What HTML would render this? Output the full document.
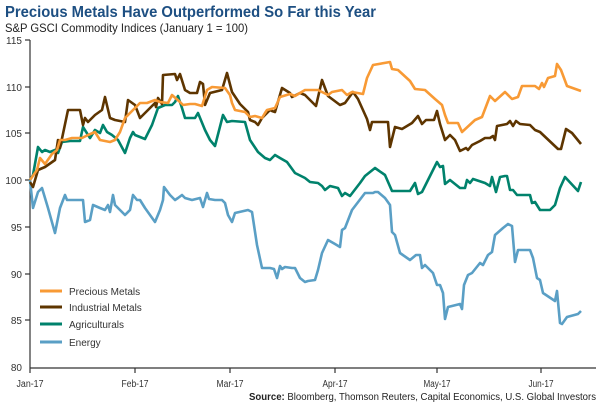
<!DOCTYPE html>
<html><head><meta charset="utf-8"><style>
body{margin:0;background:#fff;width:600px;height:407px;overflow:hidden;font-family:"Liberation Sans",sans-serif}
</style></head><body>
<svg width="600" height="407" xmlns="http://www.w3.org/2000/svg" font-family="Liberation Sans, sans-serif">
<text x="5" y="17" font-size="15.5" font-weight="bold" fill="#1d4f82" textLength="371" lengthAdjust="spacingAndGlyphs">Precious Metals Have Outperformed So Far this Year</text>
<text x="5" y="32" font-size="12" fill="#222" textLength="243" lengthAdjust="spacingAndGlyphs">S&amp;P GSCI Commodity Indices (January 1 = 100)</text>
<g stroke="#333" stroke-width="1.2" fill="none">
<line x1="30" y1="40" x2="30" y2="368"/>
<line x1="30" y1="368" x2="596" y2="368"/>
<line x1="25" y1="40" x2="30" y2="40"/><line x1="25" y1="87" x2="30" y2="87"/><line x1="25" y1="133" x2="30" y2="133"/><line x1="25" y1="180" x2="30" y2="180"/><line x1="25" y1="227" x2="30" y2="227"/><line x1="25" y1="274" x2="30" y2="274"/><line x1="25" y1="320" x2="30" y2="320"/>
<line x1="30" y1="368" x2="30" y2="373"/><line x1="135" y1="368" x2="135" y2="373"/><line x1="230" y1="368" x2="230" y2="373"/><line x1="335" y1="368" x2="335" y2="373"/><line x1="437" y1="368" x2="437" y2="373"/><line x1="541" y1="368" x2="541" y2="373"/>
</g>
<g font-size="10" fill="#333" text-anchor="end">
<text x="22" y="44">115</text><text x="22" y="91">110</text><text x="22" y="137">105</text><text x="22" y="184">100</text><text x="22" y="231">95</text><text x="22" y="278">90</text><text x="22" y="324">85</text><text x="22" y="371">80</text>
</g>
<g font-size="10" fill="#333" text-anchor="middle">
<text x="30" y="387" textLength="27" lengthAdjust="spacingAndGlyphs">Jan-17</text><text x="135" y="387" textLength="27" lengthAdjust="spacingAndGlyphs">Feb-17</text><text x="230" y="387" textLength="27" lengthAdjust="spacingAndGlyphs">Mar-17</text><text x="335" y="387" textLength="25" lengthAdjust="spacingAndGlyphs">Apr-17</text><text x="437" y="387" textLength="27" lengthAdjust="spacingAndGlyphs">May-17</text><text x="541" y="387" textLength="25" lengthAdjust="spacingAndGlyphs">Jun-17</text>
</g>
<text x="249" y="400" font-size="10" fill="#222" textLength="347" lengthAdjust="spacingAndGlyphs"><tspan font-weight="bold">Source:</tspan> Bloomberg, Thomson Reuters, Capital Economics, U.S. Global Investors</text>
<g fill="none" stroke-width="2.6" stroke-linejoin="round">
<polyline stroke="#5a9fc5" points="30,180 33,208 38,192 42,188 48,208 55,233 60,208 65,195 67,200 80,200 83,200 85,222 90,220 93,205 100,208 105,210 108,205 110,212 113,195 115,205 120,210 125,215 130,210 133,195 137,200 140,200 145,208 150,215 155,222 160,210 163,200 164,187 170,195 175,200 178,198 182,195 185,198 192,200 200,198 203,207 207,193 209,199 215,200 222,200 225,203 228,215 232,222 235,213 248,210 252,212 257,245 262,268 270,268 274,269 277,278 280,266 282,269 285,267 292,268 295,268 300,278 305,282 308,281 315,280 318,270 322,253 328,240 335,244 340,247 342,230 345,228 352,210 365,193 373,193 375,192 378,192 385,198 390,205 392,232 395,235 400,253 410,260 416,255 420,255 422,268 425,265 433,273 437,285 440,285 443,293 445,319 448,307 460,304 462,309 464,285 468,275 472,273 480,263 483,265 488,255 492,252 495,235 503,228 508,224 512,226 515,262 518,250 530,250 533,258 537,278 540,280 543,293 555,301 557,291 560,323 562,324 567,317 578,314 581,311"/>
<polyline stroke="#00826c" points="30,180 33,175 38,147 42,152 45,150 50,152 55,150 58,153 62,142 70,141 80,141 83,127 90,138 95,130 100,133 103,125 107,132 112,135 118,140 125,153 130,138 133,132 135,135 145,139 152,125 158,108 165,105 172,105 175,102 178,96 182,108 185,118 195,118 198,113 205,130 210,140 215,146 223,115 227,122 232,121 245,122 250,140 258,152 265,158 270,160 275,155 280,158 287,162 295,173 305,178 310,182 318,183 322,186 325,190 330,186 338,188 342,196 345,193 350,196 360,183 365,176 375,168 385,175 392,191 398,191 410,191 415,183 418,194 422,192 437,162 440,167 443,166 445,184 450,180 460,188 465,188 467,180 470,183 473,179 485,183 490,186 492,177 496,192 500,177 505,176 507,176 510,190 513,190 517,195 530,195 532,203 535,202 540,210 550,210 555,205 560,188 565,177 578,191 581,182"/>
<polyline stroke="#5e3500" points="30,182 33,187 38,170 45,167 55,160 58,140 60,148 68,110 80,110 83,125 85,118 88,122 95,115 102,110 105,97 110,118 115,120 125,122 128,100 135,105 140,118 145,113 150,108 155,103 156,107 158,98 162,104 163,75 175,74 177,80 180,74 185,90 190,93 197,93 200,82 203,84 205,105 210,93 222,90 227,73 232,92 240,104 248,112 250,120 255,122 258,125 262,118 270,110 272,111 275,112 282,88 290,93 292,97 300,93 305,95 316,106 322,80 328,96 340,105 345,103 353,92 358,99 367,119 370,130 372,122 388,122 390,147 395,127 402,129 412,123 418,116 422,124 426,120 434,120 437,111 440,124 445,140 450,135 455,140 460,151 466,148 468,150 472,145 480,141 485,138 490,138 493,136 495,140 497,126 507,124 510,121 513,126 516,121 520,124 530,125 535,130 540,132 558,149 561,149 566,129 572,133 581,144"/>
<polyline stroke="#f89a35" points="30,180 37,170 40,158 45,164 52,154 57,150 60,140 65,140 72,138 82,138 88,135 95,132 100,140 110,142 115,140 120,132 125,118 133,110 140,103 147,103 155,100 160,102 168,103 172,95 180,102 183,105 190,104 195,104 202,106 207,90 212,87 225,88 230,95 232,103 235,110 245,112 250,117 255,116 262,118 265,113 267,110 275,108 280,97 290,94 295,96 305,90 318,90 328,95 332,92 342,90 347,95 352,92 363,94 367,78 373,65 390,62 392,69 398,70 410,81 415,89 425,90 435,99 442,105 445,115 448,123 458,123 462,132 475,120 482,117 490,96 495,101 505,92 512,99 518,97 522,86 535,86 539,89 542,83 544,87 548,78 555,76 557,64 561,70 567,86 581,91"/>
</g>
<g stroke-width="3">
<line x1="40" y1="291" x2="62" y2="291" stroke="#f89a35"/>
<line x1="40" y1="307" x2="62" y2="307" stroke="#5e3500"/>
<line x1="40" y1="324" x2="62" y2="324" stroke="#00826c"/>
<line x1="40" y1="342" x2="62" y2="342" stroke="#5a9fc5"/>
</g>
<g font-size="10" fill="#333">
<text x="69" y="295">Precious Metals</text>
<text x="69" y="311">Industrial Metals</text>
<text x="69" y="328">Agriculturals</text>
<text x="69" y="346">Energy</text>
</g>
</svg>
</body></html>
